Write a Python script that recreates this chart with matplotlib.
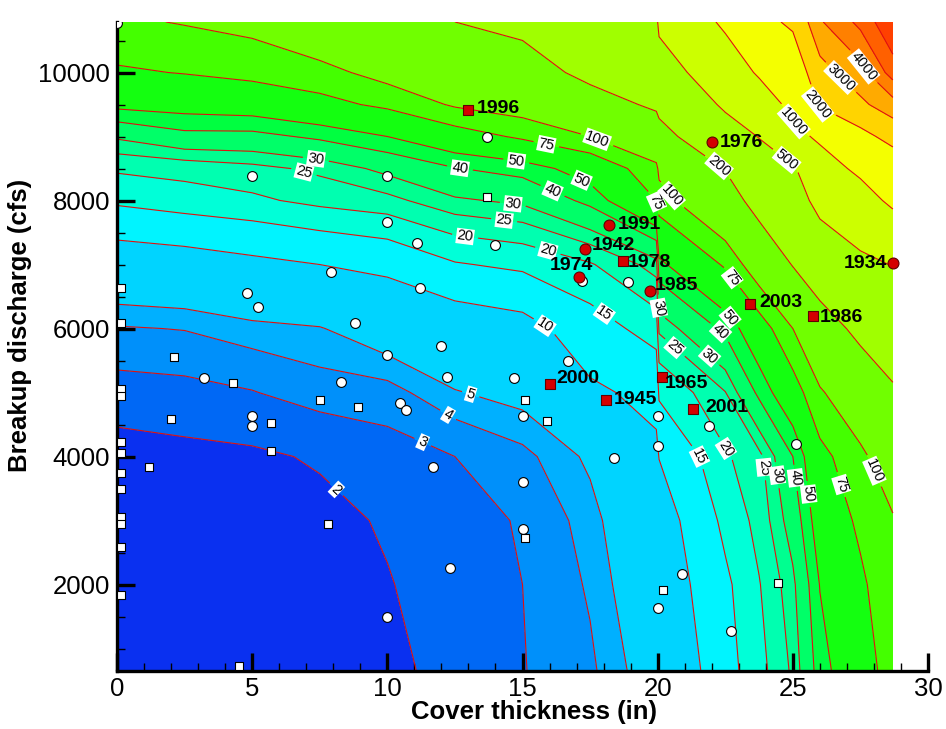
import numpy as np
import matplotlib
matplotlib.use("Agg")
import matplotlib.pyplot as plt
from matplotlib.ticker import MultipleLocator

plt.rcParams['font.family'] = ['Liberation Sans', 'DejaVu Sans']

# ---- data ----
cover_in = [0, 2.5, 5, 7.5, 10, 12.5, 15, 17.5, 19.95, 20.05, 22.5, 23.75, 25, 26,
            27.5, 28.7]
discharge_cfs = [650, 2000, 3000, 4000, 5000, 6000, 7000, 8000, 8500, 9000, 9500,
                 10000, 10790]
# one row per discharge value, one column per cover thickness
z_rows = [
    [1.3, 1.35, 1.45, 1.6, 1.8, 2.3, 2.95, 3.8, 6.2, 6.3, 13.1, 18.3, 26, 45, 65, 85],
    [1.35, 1.4, 1.45, 1.6, 1.95, 2.45, 3.0, 4.15, 7.2, 7.4, 14, 19.7, 28.5, 50.5, 71, 92],
    [1.45, 1.5, 1.55, 1.75, 2.1, 2.6, 3.1, 4.5, 7.9, 8.0, 16.3, 21.8, 33.8, 59, 79.6, 97],
    [1.6, 1.75, 1.85, 2.1, 2.55, 3.0, 3.7, 5.3, 9.2, 10.1, 19.3, 23.5, 40, 68, 93, 126],
    [2.6, 2.7, 2.95, 3.5, 3.6, 4.9, 5.6, 9.3, 11.2, 15.9, 24.8, 42.6, 64, 96, 134, 185],
    [3.9, 4.05, 4.6, 4.9, 6.3, 7.5, 8.5, 12.7, 17.3, 26, 42.5, 63, 100, 151, 232, 302],
    [7.5, 8.0, 9.0, 10, 11.2, 14.6, 16.1, 19.5, 27.4, 47, 78, 126, 205, 288, 440, 510],
    [15.9, 17.6, 19, 21.5, 23.4, 29, 31.4, 43, 75, 87, 152, 249, 353, 625, 800, 1110],
    [20.8, 21.8, 23.5, 26.2, 32, 39.5, 44, 57.5, 92, 108, 205, 356, 465, 800, 1110, 1500],
    [31, 37, 37, 42, 50, 64, 79, 100, 145, 158, 362, 511, 870, 1080, 1760, 2300],
    [54, 56.5, 59, 68, 80, 104, 118, 159, 218, 240, 555, 742, 1150, 2100, 2790, 3650],
    [72, 76, 82, 90, 113, 145, 157, 230, 275, 380, 722, 1065, 1480, 2640, 3680, 5500],
    [95, 102, 110, 140, 150, 200, 230, 300, 450, 560, 1100, 1750, 2150, 3900, 5300, 7000],
]
levels = [2, 3, 4, 5, 10, 15, 20, 25, 30, 40, 50, 75, 100, 200, 500,
          1000, 2000, 3000, 4000, 5000, 6000, 7000]

# observations: open circles / open squares
circle_x = [0.0, 5.0, 10.0, 10.0, 13.7, 11.1, 14.0, 7.9, 4.8, 5.2, 8.8, 10.0, 3.2,
            8.3, 10.45, 5.0, 5.0, 11.2, 12.0, 12.2, 14.7, 16.7, 10.7, 15.0, 11.7,
            15.0, 18.4, 20.0, 20.0, 17.2, 18.9, 21.9, 25.1, 15.0, 12.3, 20.0,
            20.9, 22.7, 10.0]
circle_y = [10780, 8390, 8390, 7660, 9000, 7340, 7300, 6890, 6550, 6340, 6080, 5580,
            5220, 5170, 4840, 4640, 4470, 6640, 5720, 5240, 5230, 5500, 4720, 4640,
            3840, 3600, 3970, 4640, 4170, 6750, 6720, 4470, 4200, 2870, 2260, 1640,
            2160, 1270, 1500]
square_x = [0.15, 0.15, 2.1, 4.3, 0.15, 0.15, 2.0, 5.7, 5.7, 7.5, 8.9, 0.15, 0.15,
            1.2, 0.15, 0.15, 0.15, 0.15, 0.15, 0.15, 7.8, 4.5, 13.7, 15.1, 15.9,
            15.1, 20.2, 24.45]
square_y = [6640, 6090, 5560, 5150, 5050, 4950, 4580, 4520, 4090, 4890, 4780, 4230,
            4060, 3830, 3750, 3500, 3060, 2940, 2580, 1830, 2940, 720, 8050, 4890,
            4560, 2720, 1910, 2030]

# labelled breakup years
red_circle_years = ['1976', '1991', '1942', '1974', '1985', '1934']
red_circle_x = [22.0, 18.2, 17.3, 17.1, 19.7, 28.7]
red_circle_y = [8910, 7610, 7250, 6810, 6580, 7020]
red_square_years = ['1996', '1978', '2003', '1986', '2000', '1945', '1965', '2001']
red_square_x = [13.0, 18.7, 23.4, 25.75, 16.0, 18.1, 20.15, 21.3]
red_square_y = [9410, 7060, 6390, 6200, 5140, 4890, 5250, 4750]

# ---- styling ----
band_colors = ['#0a30f0', '#0068f5', '#0090fa', '#00b0ff', '#00d4ff', '#00f4ff',
               '#00ffd8', '#00ffb0', '#00ff90', '#00ff68', '#00ff40', '#14ff10',
               '#44ff00', '#70ff00', '#a0ff00', '#ccff00', '#f4ff00', '#ffd400',
               '#ffaa00', '#ff8000', '#ff6000', '#ff4000', '#ff1a00']
label_spots = [(8.1, 3480), (11.3, 4220), (12.3, 4690), (13.1, 5000), (15.8, 6020),
               (18.2, 6340), (21.9, 4060), (12.9, 7520), (22.75, 4190), (6.9, 8420),
               (14.3, 7620), (20.8, 5780), (24.1, 3840), (7.4, 8800), (14.65, 7970),
               (16.0, 7310), (20.35, 6330), (21.9, 5560), (24.6, 3720), (12.7, 8560),
               (16.1, 8140), (22.3, 5940), (25.15, 3670), (14.8, 8720), (17.2, 8330),
               (22.9, 6250), (25.5, 3410), (15.9, 8920), (19.9, 7980), (22.9, 6840),
               (27.0, 3590), (17.8, 9000), (20.7, 8140), (28.3, 3830), (22.05, 8410),
               (24.8, 8650), (25.0, 9220), (25.75, 9470), (26.7, 9890), (27.6, 10090)]
circle_offsets = [(6, 0), (6, 1), (5, 2), (-6, 8), (4, 4), (-4, 0)]
square_offsets = [(6, 1), (4, -1), (7, 1), (5, -1), (5, 4), (5, 0), (2, -5), (9, 1)]

fig = plt.figure(figsize=(9.46, 7.29), dpi=100)
ax = fig.add_axes([0.1237, 0.0796, 0.8573, 0.8903])

X, Y = np.meshgrid(cover_in, discharge_cfs)
logz = np.log10(np.array(z_rows))
bounds = np.log10([0.5] + levels + [50000])
ax.contourf(X, Y, logz, levels=bounds, colors=band_colors)
cs = ax.contour(X, Y, logz, levels=np.log10(levels), colors='#e01010', linewidths=0.8)
ax.set_xlim(0, 30)
ax.set_ylim(650, 10790)

labels = ax.clabel(cs, manual=label_spots, inline=True, fontsize=10.5, colors='black',
                   fmt=lambda v: f'{10 ** v:.0f}')
for t in labels:
    t.set_bbox(dict(boxstyle='square,pad=0.05', fc='white', ec='none'))

ax.scatter(circle_x, circle_y, s=50, marker='o', facecolor='white',
           edgecolor='black', linewidth=0.8, zorder=5)
ax.scatter(square_x, square_y, s=40, marker='s', facecolor='white',
           edgecolor='black', linewidth=0.8, zorder=5)
ax.scatter(red_circle_x, red_circle_y, s=62, marker='o', facecolor='#d40000',
           edgecolor='#600000', linewidth=0.8, zorder=6, clip_on=False)
ax.scatter(red_square_x, red_square_y, s=44, marker='s', facecolor='#d40000',
           edgecolor='#600000', linewidth=0.8, zorder=6)

for yr, x, y, off in zip(red_circle_years, red_circle_x, red_circle_y, circle_offsets):
    ha = 'right' if yr == '1934' else ('center' if off[0] < 0 else 'left')
    ax.annotate(yr, (x, y), xytext=off, textcoords='offset points', ha=ha,
                va='center', fontsize=14, fontweight='bold', zorder=7)
for yr, x, y, off in zip(red_square_years, red_square_x, red_square_y, square_offsets):
    ax.annotate(yr, (x, y), xytext=off, textcoords='offset points', ha='left',
                va='center', fontsize=14, fontweight='bold', zorder=7)

for side in ['top', 'right']:
    ax.spines[side].set_visible(False)
for side in ['left', 'bottom']:
    ax.spines[side].set_linewidth(2.4)

ax.xaxis.set_major_locator(MultipleLocator(5))
ax.xaxis.set_minor_locator(MultipleLocator(1))
ax.yaxis.set_major_locator(MultipleLocator(2000))
ax.yaxis.set_minor_locator(MultipleLocator(500))
ax.tick_params(which='major', direction='in', length=13, width=2.4, labelsize=18.5)
ax.tick_params(which='minor', direction='in', length=6, width=1.0)
ax.tick_params(axis='x', which='major', pad=4)
ax.tick_params(axis='y', which='major', pad=5)

ax.set_xlabel('Cover thickness (in)', fontsize=18.5, fontweight='bold')
ax.set_ylabel('Breakup discharge (cfs)', fontsize=18.5, fontweight='bold')
ax.xaxis.set_label_coords(0.514, -0.045)
ax.yaxis.set_label_coords(-0.105, 0.533)

fig.savefig('out.png', dpi=100)
